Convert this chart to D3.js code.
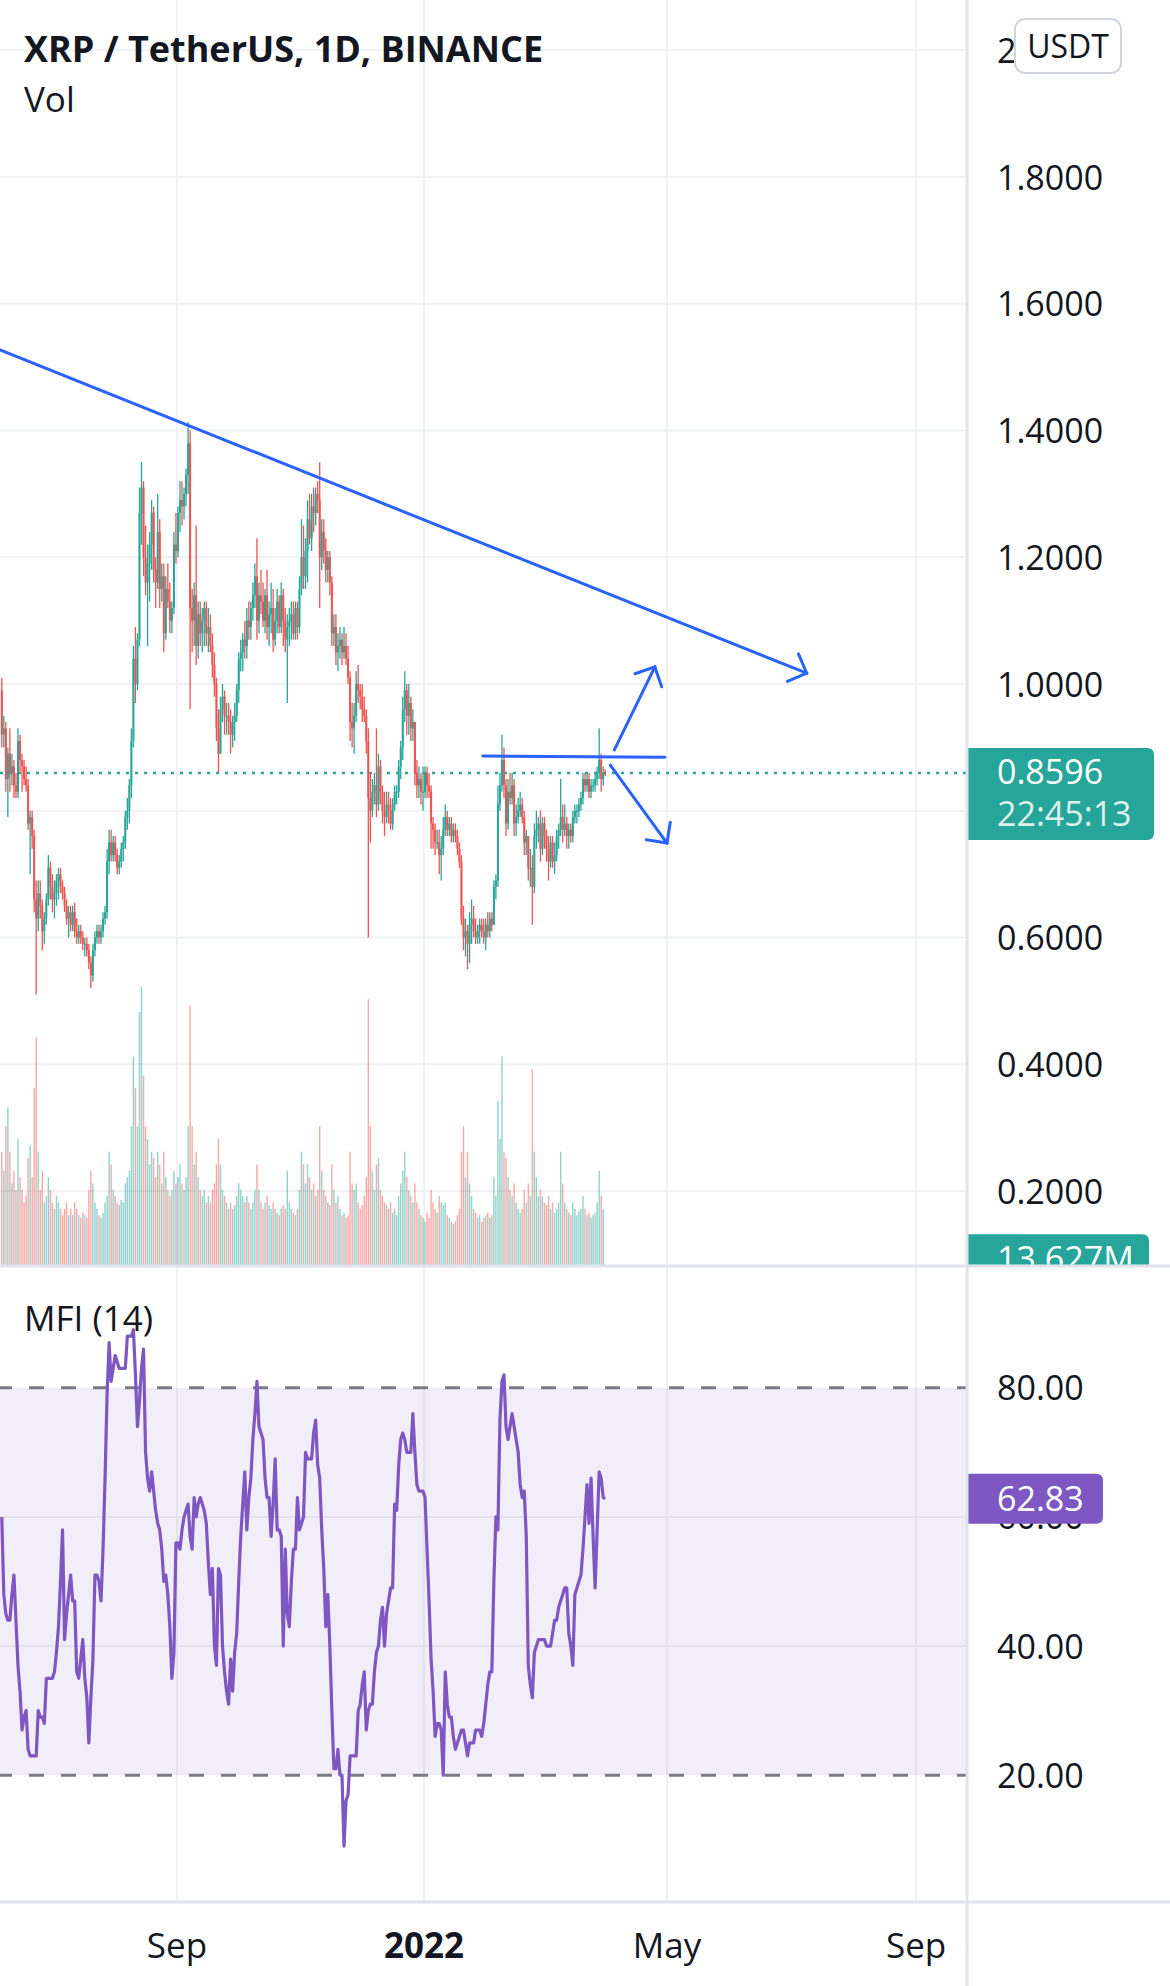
<!DOCTYPE html>
<html><head><meta charset="utf-8">
<script src="https://cdn.jsdelivr.net/npm/d3@7"></script>
<style>
html,body{margin:0;padding:0;background:#fff;}
svg{display:block;}
text{font-family:"Open Sans",sans-serif;}
</style></head><body>
<svg id="chart" width="1170" height="1986"></svg>
<script>
// ---------------- data ----------------
const startDate = "2021-06-06"; // first daily candle, one candle per day
const open = [
0.99,0.92,0.93,0.85,0.89,0.86,0.87,0.84,0.83,0.91,
0.88,0.87,0.85,0.84,0.78,0.79,0.76,0.66,0.63,0.67,
0.65,0.61,0.63,0.66,0.71,0.68,0.66,0.67,0.69,0.70,
0.68,0.67,0.65,0.63,0.64,0.62,0.64,0.61,0.60,0.61,
0.60,0.59,0.59,0.58,0.56,0.54,0.58,0.60,0.61,0.60,
0.61,0.63,0.64,0.72,0.75,0.73,0.75,0.73,0.71,0.72,
0.74,0.75,0.79,0.80,0.84,0.91,1.04,1.00,1.07,1.27,
1.31,1.20,1.16,1.19,1.22,1.27,1.18,1.16,1.24,1.15,
1.17,1.08,1.15,1.13,1.10,1.12,1.22,1.21,1.27,1.29,
1.28,1.30,1.33,1.38,1.12,1.10,1.14,1.06,1.11,1.08,
1.10,1.12,1.08,1.09,1.06,1.03,1.00,0.93,0.89,0.96,
0.98,0.95,0.95,0.94,0.92,0.94,0.95,0.99,1.04,1.05,
1.07,1.06,1.10,1.09,1.12,1.14,1.17,1.10,1.14,1.13,
1.10,1.14,1.09,1.11,1.12,1.07,1.10,1.13,1.09,1.14,
1.10,1.07,1.09,1.10,1.11,1.08,1.12,1.09,1.15,1.20,
1.17,1.21,1.26,1.23,1.28,1.27,1.30,1.29,1.20,1.24,
1.21,1.18,1.20,1.16,1.08,1.09,1.05,1.06,1.07,1.05,
1.06,1.04,1.01,0.94,0.93,0.95,1.00,0.99,0.98,0.96,
0.95,0.91,0.82,0.80,0.83,0.84,0.81,0.87,0.83,0.80,
0.79,0.81,0.80,0.78,0.81,0.83,0.83,0.87,0.90,0.96,
0.99,0.95,0.97,0.93,0.94,0.86,0.84,0.85,0.83,0.83,
0.86,0.84,0.83,0.78,0.77,0.75,0.75,0.73,0.74,0.77,
0.79,0.77,0.78,0.76,0.77,0.76,0.74,0.72,0.63,0.60,
0.61,0.59,0.62,0.63,0.61,0.60,0.61,0.62,0.61,0.60,
0.62,0.61,0.63,0.62,0.68,0.69,0.81,0.84,0.88,0.84,
0.78,0.83,0.82,0.84,0.78,0.79,0.80,0.81,0.79,0.75,
0.76,0.71,0.71,0.68,0.76,0.77,0.78,0.74,0.78,0.76,
0.74,0.72,0.75,0.72,0.73,0.76,0.77,0.79,0.77,0.78,
0.76,0.77,0.76,0.79,0.80,0.80,0.81,0.82,0.85,0.84,
0.85,0.83,0.84,0.84,0.85,0.86,0.88,0.85,0.86];
const high = [
1.01,0.95,0.94,0.90,0.93,0.89,0.88,0.86,0.93,0.92,
0.89,0.88,0.87,0.85,0.80,0.80,0.77,0.69,0.69,0.69,
0.66,0.64,0.67,0.73,0.72,0.70,0.69,0.70,0.71,0.71,
0.69,0.68,0.66,0.65,0.65,0.65,0.655,0.63,0.62,0.62,
0.61,0.60,0.60,0.59,0.57,0.59,0.61,0.62,0.62,0.62,
0.64,0.65,0.74,0.77,0.77,0.76,0.76,0.74,0.73,0.75,
0.76,0.80,0.82,0.85,0.93,1.06,1.09,1.08,1.31,1.35,
1.32,1.25,1.22,1.24,1.29,1.28,1.20,1.30,1.26,1.19,
1.19,1.17,1.19,1.16,1.13,1.24,1.27,1.28,1.32,1.32,
1.31,1.34,1.414,1.40,1.15,1.16,1.25,1.13,1.13,1.12,
1.13,1.13,1.12,1.11,1.08,1.05,1.01,0.96,0.98,1.00,
0.99,0.97,0.97,0.96,0.95,0.97,1.00,1.05,1.07,1.08,
1.10,1.12,1.13,1.13,1.16,1.19,1.23,1.16,1.18,1.16,
1.15,1.18,1.13,1.16,1.15,1.12,1.15,1.14,1.16,1.15,
1.12,1.11,1.12,1.13,1.13,1.13,1.13,1.17,1.26,1.25,
1.23,1.29,1.30,1.30,1.31,1.31,1.32,1.35,1.26,1.26,
1.23,1.21,1.21,1.17,1.11,1.11,1.08,1.09,1.08,1.09,
1.08,1.06,1.02,0.97,0.97,1.02,1.03,1.00,1.00,0.98,
0.96,0.93,0.86,0.85,0.86,0.93,0.89,0.88,0.84,0.83,
0.83,0.83,0.82,0.82,0.84,0.84,0.88,0.91,0.98,1.02,
1.00,1.00,0.98,0.96,0.94,0.88,0.87,0.86,0.87,0.87,
0.87,0.86,0.84,0.79,0.78,0.77,0.77,0.76,0.79,0.81,
0.80,0.79,0.79,0.78,0.78,0.77,0.75,0.73,0.65,0.63,
0.62,0.64,0.66,0.65,0.63,0.62,0.63,0.63,0.63,0.63,
0.64,0.64,0.64,0.69,0.70,0.84,0.86,0.92,0.90,0.85,
0.85,0.86,0.86,0.85,0.81,0.82,0.83,0.82,0.80,0.77,
0.76,0.74,0.73,0.78,0.80,0.79,0.80,0.79,0.79,0.77,
0.76,0.76,0.76,0.75,0.77,0.78,0.85,0.81,0.81,0.79,
0.78,0.78,0.80,0.81,0.81,0.82,0.83,0.86,0.86,0.86,
0.86,0.85,0.85,0.86,0.87,0.93,0.89,0.87,0.865];
const low = [
0.90,0.90,0.83,0.79,0.83,0.84,0.82,0.82,0.82,0.86,
0.83,0.84,0.83,0.77,0.70,0.74,0.64,0.51,0.61,0.63,
0.58,0.59,0.62,0.65,0.66,0.64,0.63,0.65,0.66,0.67,
0.66,0.64,0.62,0.60,0.61,0.61,0.60,0.59,0.59,0.59,
0.58,0.57,0.57,0.55,0.52,0.53,0.57,0.59,0.59,0.59,
0.60,0.62,0.63,0.70,0.72,0.72,0.72,0.70,0.70,0.71,
0.72,0.74,0.77,0.78,0.82,0.90,0.97,0.99,1.06,1.22,
1.17,1.14,1.06,1.13,1.18,1.16,1.12,1.15,1.12,1.13,
1.05,1.07,1.12,1.08,1.08,1.11,1.19,1.20,1.24,1.25,
1.26,1.28,1.30,0.96,1.05,1.06,1.03,1.04,1.06,1.05,
1.06,1.06,1.05,1.05,1.01,0.98,0.91,0.86,0.89,0.94,
0.92,0.92,0.92,0.89,0.90,0.91,0.94,0.97,1.02,1.02,
1.04,1.04,1.07,1.07,1.10,1.12,1.07,1.08,1.11,1.09,
1.08,1.07,1.06,1.08,1.05,1.06,1.08,1.08,1.08,1.06,
1.05,0.97,1.06,1.07,1.07,1.07,1.07,1.08,1.14,1.15,
1.15,1.16,1.22,1.21,1.24,1.25,1.27,1.12,1.18,1.19,
1.16,1.16,1.14,1.06,1.06,1.03,1.02,1.04,1.03,1.04,
1.03,1.00,0.91,0.90,0.89,0.94,0.97,0.96,0.94,0.94,
0.89,0.60,0.75,0.79,0.81,0.79,0.80,0.81,0.78,0.76,
0.78,0.78,0.77,0.77,0.80,0.81,0.82,0.85,0.88,0.94,
0.92,0.92,0.91,0.91,0.84,0.82,0.82,0.81,0.80,0.82,
0.82,0.82,0.74,0.74,0.73,0.74,0.70,0.69,0.73,0.76,
0.76,0.76,0.75,0.75,0.75,0.73,0.71,0.62,0.58,0.57,
0.55,0.56,0.59,0.60,0.59,0.59,0.59,0.60,0.59,0.58,
0.60,0.60,0.61,0.62,0.66,0.68,0.80,0.83,0.82,0.76,
0.77,0.81,0.81,0.76,0.76,0.78,0.79,0.78,0.73,0.73,
0.69,0.68,0.62,0.67,0.74,0.75,0.72,0.73,0.74,0.72,
0.69,0.71,0.71,0.70,0.72,0.74,0.76,0.75,0.76,0.74,
0.74,0.75,0.75,0.78,0.78,0.79,0.80,0.81,0.83,0.83,
0.82,0.82,0.83,0.83,0.84,0.85,0.83,0.84,0.855];
const close = [
0.92,0.93,0.85,0.89,0.86,0.87,0.84,0.83,0.91,0.88,
0.87,0.85,0.84,0.78,0.79,0.76,0.66,0.63,0.67,0.65,
0.61,0.63,0.66,0.71,0.68,0.66,0.67,0.69,0.70,0.68,
0.67,0.65,0.63,0.64,0.62,0.64,0.61,0.60,0.61,0.60,
0.59,0.59,0.58,0.56,0.54,0.58,0.60,0.61,0.60,0.61,
0.63,0.64,0.72,0.75,0.73,0.75,0.73,0.71,0.72,0.74,
0.75,0.79,0.80,0.84,0.91,1.04,1.00,1.07,1.27,1.31,
1.20,1.16,1.19,1.22,1.27,1.18,1.16,1.24,1.15,1.17,
1.08,1.15,1.13,1.10,1.12,1.22,1.21,1.27,1.29,1.28,
1.30,1.33,1.38,1.12,1.10,1.14,1.06,1.11,1.08,1.10,
1.12,1.08,1.09,1.06,1.03,1.00,0.93,0.89,0.96,0.98,
0.95,0.95,0.94,0.92,0.94,0.95,0.99,1.04,1.05,1.07,
1.06,1.10,1.09,1.12,1.14,1.17,1.10,1.14,1.13,1.10,
1.14,1.09,1.11,1.12,1.07,1.10,1.13,1.09,1.14,1.10,
1.07,1.09,1.10,1.11,1.08,1.12,1.09,1.15,1.20,1.17,
1.21,1.26,1.23,1.28,1.27,1.30,1.29,1.20,1.24,1.21,
1.18,1.20,1.16,1.08,1.09,1.05,1.06,1.07,1.05,1.06,
1.04,1.01,0.94,0.93,0.95,1.00,0.99,0.98,0.96,0.95,
0.91,0.82,0.80,0.83,0.84,0.81,0.87,0.83,0.80,0.79,
0.81,0.80,0.78,0.81,0.83,0.83,0.87,0.90,0.96,0.99,
0.95,0.97,0.93,0.94,0.86,0.84,0.85,0.83,0.83,0.86,
0.84,0.83,0.78,0.77,0.75,0.75,0.73,0.74,0.77,0.79,
0.77,0.78,0.76,0.77,0.76,0.74,0.72,0.63,0.60,0.61,
0.59,0.62,0.63,0.61,0.60,0.61,0.62,0.61,0.60,0.62,
0.61,0.63,0.62,0.68,0.69,0.81,0.84,0.88,0.84,0.78,
0.83,0.82,0.84,0.78,0.79,0.80,0.81,0.79,0.75,0.76,
0.71,0.71,0.68,0.76,0.77,0.78,0.74,0.78,0.76,0.74,
0.72,0.75,0.72,0.73,0.76,0.77,0.79,0.77,0.78,0.76,
0.77,0.76,0.79,0.80,0.80,0.81,0.82,0.85,0.84,0.85,
0.83,0.84,0.84,0.85,0.86,0.88,0.85,0.86,0.8596];
// volume, millions XRP
const volume = [
900,750,1100,1250,900,650,750,600,1000,700,600,500,550,850,950,700,1400,1800,
900,600,750,500,550,700,600,500,450,550,500,450,400,450,500,400,450,400,500,450,400,380,420,
400,380,600,750,650,500,450,400,380,420,500,550,900,800,600,550,500,480,520,500,
650,700,750,1100,1650,1400,1100,2000,2200,1500,
1100,1000,800,900,850,700,900,800,650,900,700,600,550,600,750,650,700,800,650,600,700,1100,
2050,
1100,800,900,700,600,550,600,500,550,500,600,650,800,1000,800,600,550,500,450,500,450,480,550,650,600,550,500,
550,500,450,500,600,800,600,500,450,500,550,480,450,500,450,420,400,450,480,450,750,500,450,420,400,450,600,900,800,650,
800,700,600,650,550,600,1100,750,600,550,500,480,800,600,500,550,450,400,420,380,400,900,650,600,650,500,450,480,550,700,
2100,
1100,750,600,800,850,600,550,500,480,450,500,420,450,400,550,650,750,900,700,600,550,500,650,500,450,400,380,350,420,
380,600,500,450,420,550,500,480,500,400,380,350,330,350,400,450,900,1100,700,900,650,550,450,420,380,400,350,380,400,420,
380,400,700,550,1300,1000,1650,900,850,700,600,550,650,500,450,420,450,600,500,650,550,1550,900,700,550,600,550,500,480,550,
450,500,420,450,500,900,650,500,450,420,400,500,450,400,430,450,550,450,400,420,380,400,420,500,750,550,450,13.627];
const mfi = [
60,48,45,44,44,48,51,44,37,33,
27,29,30,24,23,23,23,23,30,29,
29,28,35,35,35,35,36,39,43,50,
58,41,45,48,51,47,47,36,35,38,
41,35,32,25,32,38,51,51,50,47,
55,66,79,87,81,83,85,84,83,83,
83,83,88,88,88,89,82,74,78,83,
86,70,66,64,67,64,61,59,58,55,
50,51,48,43,35,39,56,56,55,58,
60,61,62,57,55,63,60,62,63,62,
61,59,53,48,52,40,37,52,51,40,
36,33,31,38,33,39,42,50,57,62,
67,58,63,66,72,76,81,74,73,72,
66,63,63,57,62,69,58,58,57,40,
55,45,43,50,55,55,63,58,59,60,
70,69,69,69,73,75,68,66,58,52,
43,48,40,30,21,21,24,20,20,9,
16,17,23,23,23,23,30,31,34,36,
27,30,31,31,36,39,40,44,46,40,
45,47,49,49,62,61,68,72,73,72,
70,70,70,76,70,65,64,64,64,63,
55,47,38,33,26,28,28,27,20,36,
31,29,29,26,24,25,26,27,27,25,
23,25,25,25,27,27,27,26,28,31,
34,36,36,50,60,58,75,81,82,74,
72,74,76,74,72,70,65,63,64,57,
37,34,32,39,40,41,41,41,41,40,
40,40,42,44,44,46,47,48,49,49,
42,40,37,48,49,50,51,55,60,65,
59,66,57,49,58,67,66,63,62.83];

const priceTicks = [0.2,0.4,0.6,0.8,1.0,1.2,1.4,1.6,1.8,2.0];
const mfiTicks = [20,40,60,80];
const mfiBands = [20,80];
const timeTicks = ["2021-09-01","2022-01-01","2022-05-01","2022-09-01"];
const timeLabels = ["Sep","2022","May","Sep"];
const title = "XRP / TetherUS, 1D, BINANCE";
const lastPrice = 0.8596, countdown = "22:45:13", lastVolumeLabel = "13.627M", lastMfi = 62.83;
// user drawings (date, price)
const trendLine = [["2021-06-01",1.533],["2022-07-09",1.017]];
const levelLine = [["2022-01-30",0.8864],["2022-04-30",0.8843]];
const upArrow = [["2022-04-05",0.896],["2022-04-25",1.027]];
const downArrow = [["2022-04-03",0.872],["2022-05-01",0.749]];

// ---------------- layout ----------------
const W = 1170, H = 1986;
const paneR = 966, priceBottom = 1266, mfiBottom = 1902;
const GREEN = "#26a69a", RED = "#ef5350", BLUE = "#2962ff", PURPLE = "#7e57c2";
const GRID = "#f0f1f4", SEP = "#e0e3eb", TXT = "#131722";

const svg = d3.select("#chart");
const day = 864e5;
const t0 = Date.parse(startDate + "T00:00:00Z");
const candles = close.map((c,i)=>({date:new Date(t0 + i*day), o:open[i], h:high[i], l:low[i], c, v:volume[i], m:mfi[i]}));

const x = d3.scaleUtc().domain([Date.UTC(2022,0,1), Date.UTC(2022,4,1)]).range([424, 667]);
const y = d3.scaleLinear().domain([1.0, 1.8]).range([684, 177]);
const yVol = d3.scaleLinear().domain([0, 1000]).range([priceBottom, priceBottom - 127]);
const yM = d3.scaleLinear().domain([20, 80]).range([1775.2, 1387.8]);
const cx = d => x(new Date(d.date.getTime() + day/2));
const pd = s => new Date(Date.parse(s + "T00:00:00Z"));

const defs = svg.append("defs");
defs.append("clipPath").attr("id","clipP").append("rect").attr("x",0).attr("y",0).attr("width",paneR).attr("height",priceBottom);
defs.append("clipPath").attr("id","clipM").append("rect").attr("x",0).attr("y",priceBottom).attr("width",paneR).attr("height",mfiBottom-priceBottom);
defs.append("clipPath").attr("id","clipV").append("rect").attr("x",paneR).attr("y",0).attr("width",W-paneR).attr("height",priceBottom-1.5);
defs.append("clipPath").attr("id","clipTop").append("rect").attr("x",paneR).attr("y",0).attr("width",1014-paneR).attr("height",120);

svg.append("rect").attr("width",W).attr("height",H).attr("fill","#fff");

// grid
const grid = svg.append("g");
grid.selectAll(".hg").data(priceTicks).join("line")
  .attr("x1",0).attr("x2",paneR).attr("y1",d=>y(d)).attr("y2",d=>y(d))
  .attr("stroke",GRID).attr("stroke-width",2);
grid.selectAll(".mg").data([40,60]).join("line")
  .attr("x1",0).attr("x2",paneR).attr("y1",d=>yM(d)).attr("y2",d=>yM(d))
  .attr("stroke",GRID).attr("stroke-width",2);
grid.selectAll(".vg").data(timeTicks).join("line")
  .attr("x1",d=>x(pd(d))).attr("x2",d=>x(pd(d))).attr("y1",0).attr("y2",mfiBottom)
  .attr("stroke",GRID).attr("stroke-width",2);

// price pane
const pp = svg.append("g").attr("clip-path","url(#clipP)");
pp.selectAll(".vol").data(candles).join("rect")
  .attr("x",d=>cx(d)-0.7).attr("width",1.4)
  .attr("y",d=>yVol(d.v)).attr("height",d=>priceBottom - yVol(d.v))
  .attr("fill",d=>d.c>=d.o ? "rgba(38,166,154,0.5)" : "rgba(239,83,80,0.5)");

pp.append("line").attr("x1",0).attr("x2",paneR).attr("y1",y(lastPrice)).attr("y2",y(lastPrice))
  .attr("stroke",GREEN).attr("stroke-width",2.5).attr("stroke-dasharray","3,6");

pp.selectAll(".wick").data(candles).join("line")
  .attr("x1",cx).attr("x2",cx).attr("y1",d=>y(d.h)).attr("y2",d=>y(d.l))
  .attr("stroke",d=>d.c>=d.o?GREEN:RED).attr("stroke-width",1.3);
pp.selectAll(".body").data(candles).join("rect")
  .attr("x",d=>cx(d)-1).attr("width",2)
  .attr("y",d=>y(Math.max(d.o,d.c))).attr("height",d=>Math.max(1.2,Math.abs(y(d.o)-y(d.c))))
  .attr("fill",d=>d.c>=d.o?GREEN:RED);

// drawings
function seg(g, pts, arrow){
  const p = pts.map(([d,v])=>[x(pd(d)), y(v)]);
  g.append("line").attr("x1",p[0][0]).attr("y1",p[0][1]).attr("x2",p[1][0]).attr("y2",p[1][1])
    .attr("stroke",BLUE).attr("stroke-width",3).attr("stroke-linecap","round");
  if(arrow){
    const dx=p[1][0]-p[0][0], dy=p[1][1]-p[0][1], L=Math.hypot(dx,dy);
    const ux=-dx/L, uy=-dy/L, len=21, a=Math.PI/4;
    [a,-a].forEach(t=>{
      const rx=ux*Math.cos(t)-uy*Math.sin(t), ry=ux*Math.sin(t)+uy*Math.cos(t);
      g.append("line").attr("x1",p[1][0]).attr("y1",p[1][1]).attr("x2",p[1][0]+rx*len).attr("y2",p[1][1]+ry*len)
        .attr("stroke",BLUE).attr("stroke-width",3).attr("stroke-linecap","round");
    });
  }
}
seg(pp, trendLine, true);
seg(pp, levelLine, false);
seg(pp, upArrow, true);
seg(pp, downArrow, true);

// MFI pane
const mp = svg.append("g").attr("clip-path","url(#clipM)");
mp.append("rect").attr("x",0).attr("width",paneR).attr("y",yM(80)).attr("height",yM(20)-yM(80))
  .attr("fill","rgba(126,87,194,0.1)");
mp.selectAll(".band").data(mfiBands).join("line")
  .attr("x1",0).attr("x2",paneR).attr("y1",d=>yM(d)).attr("y2",d=>yM(d))
  .attr("stroke","#787b86").attr("stroke-width",3).attr("stroke-dasharray","15,17").attr("stroke-dashoffset",3);
mp.append("path").datum(candles)
  .attr("d", d3.line().x(cx).y(d=>yM(d.m)))
  .attr("fill","none").attr("stroke",PURPLE).attr("stroke-width",3.2).attr("stroke-linejoin","round");

// separators
svg.append("line").attr("x1",0).attr("x2",W).attr("y1",priceBottom).attr("y2",priceBottom).attr("stroke",SEP).attr("stroke-width",3);
svg.append("line").attr("x1",0).attr("x2",W).attr("y1",mfiBottom).attr("y2",mfiBottom).attr("stroke",SEP).attr("stroke-width",3);

// right axis labels (labels hidden by the tags are not drawn)
const ax = svg.append("g").attr("font-size",34).attr("fill",TXT);
ax.selectAll(".pl").data(priceTicks.filter(d=>d<1.9 && Math.abs(y(d)-y(lastPrice))>70)).join("text")
  .attr("x",997).attr("y",d=>y(d)+12.5).text(d=>d.toFixed(4));
// top label partly hidden behind the currency box
svg.append("g").attr("clip-path","url(#clipTop)").append("text")
  .attr("x",997).attr("y",y(2.0)+12.5).attr("font-size",34).attr("fill",TXT).text((2.0).toFixed(4));
ax.selectAll(".ml").data(mfiTicks).join("text")
  .attr("x",997).attr("y",d=>yM(d)+12.5).text(d=>d.toFixed(2));

// USDT box
svg.append("rect").attr("x",1015).attr("y",19).attr("width",106).attr("height",54).attr("rx",10)
  .attr("fill","#fff").attr("stroke","#d1d4dc").attr("stroke-width",2);
svg.append("text").attr("x",1068).attr("y",58).attr("text-anchor","middle").attr("font-size",32).attr("fill",TXT).text("USDT");

function tag(yTop, w, h, fill){
  const x0=paneR, r=7;
  return svg.append("path").attr("fill",fill)
    .attr("d",`M${x0},${yTop}H${x0+w-r}Q${x0+w},${yTop} ${x0+w},${yTop+r}V${yTop+h-r}Q${x0+w},${yTop+h} ${x0+w-r},${yTop+h}H${x0}Z`);
}
// last price tag
const pt = y(lastPrice) - 25;
tag(pt, 188, 92, GREEN);
svg.append("text").attr("x",997).attr("y",pt+36).attr("font-size",34).attr("fill","#fff").text(lastPrice.toFixed(4));
svg.append("text").attr("x",997).attr("y",pt+78).attr("font-size",34).attr("fill","rgba(255,255,255,0.85)").text(countdown);
// volume tag (clipped by pane)
const vt = yVol(volume[volume.length-1]) - 30;
const vgrp = svg.append("g").attr("clip-path","url(#clipV)");
vgrp.append("path").attr("fill",GREEN)
  .attr("d",`M${paneR},${vt}H${paneR+176}Q${paneR+183},${vt} ${paneR+183},${vt+7}V${vt+50}H${paneR}Z`);
vgrp.append("text").attr("x",997).attr("y",vt+37).attr("font-size",34).attr("fill","#fff").text(lastVolumeLabel);
// MFI tag
const mt = yM(lastMfi) - 25;
tag(mt, 137, 50, PURPLE);
svg.append("text").attr("x",997).attr("y",mt+37).attr("font-size",34).attr("fill","#fff").text(lastMfi.toFixed(2));

// vertical axis separator
svg.append("line").attr("x1",paneR+1).attr("x2",paneR+1).attr("y1",0).attr("y2",H).attr("stroke",SEP).attr("stroke-width",3);

// time axis labels
svg.selectAll(".tl").data(timeTicks).join("text")
  .attr("x",d=>x(pd(d))).attr("y",1958).attr("text-anchor","middle").attr("font-size",35)
  .attr("font-weight",(d,i)=>timeLabels[i]==="2022"?700:400).attr("fill",TXT)
  .text((d,i)=>timeLabels[i]);

// legends
svg.append("text").attr("x",24).attr("y",62).attr("font-size",36).attr("font-weight",700).attr("fill",TXT).text(title);
svg.append("text").attr("x",24).attr("y",112).attr("font-size",35).attr("fill",TXT).text("Vol");
svg.append("text").attr("x",24).attr("y",1331).attr("font-size",35).attr("fill",TXT).text("MFI (14)");
</script>
</body></html>
